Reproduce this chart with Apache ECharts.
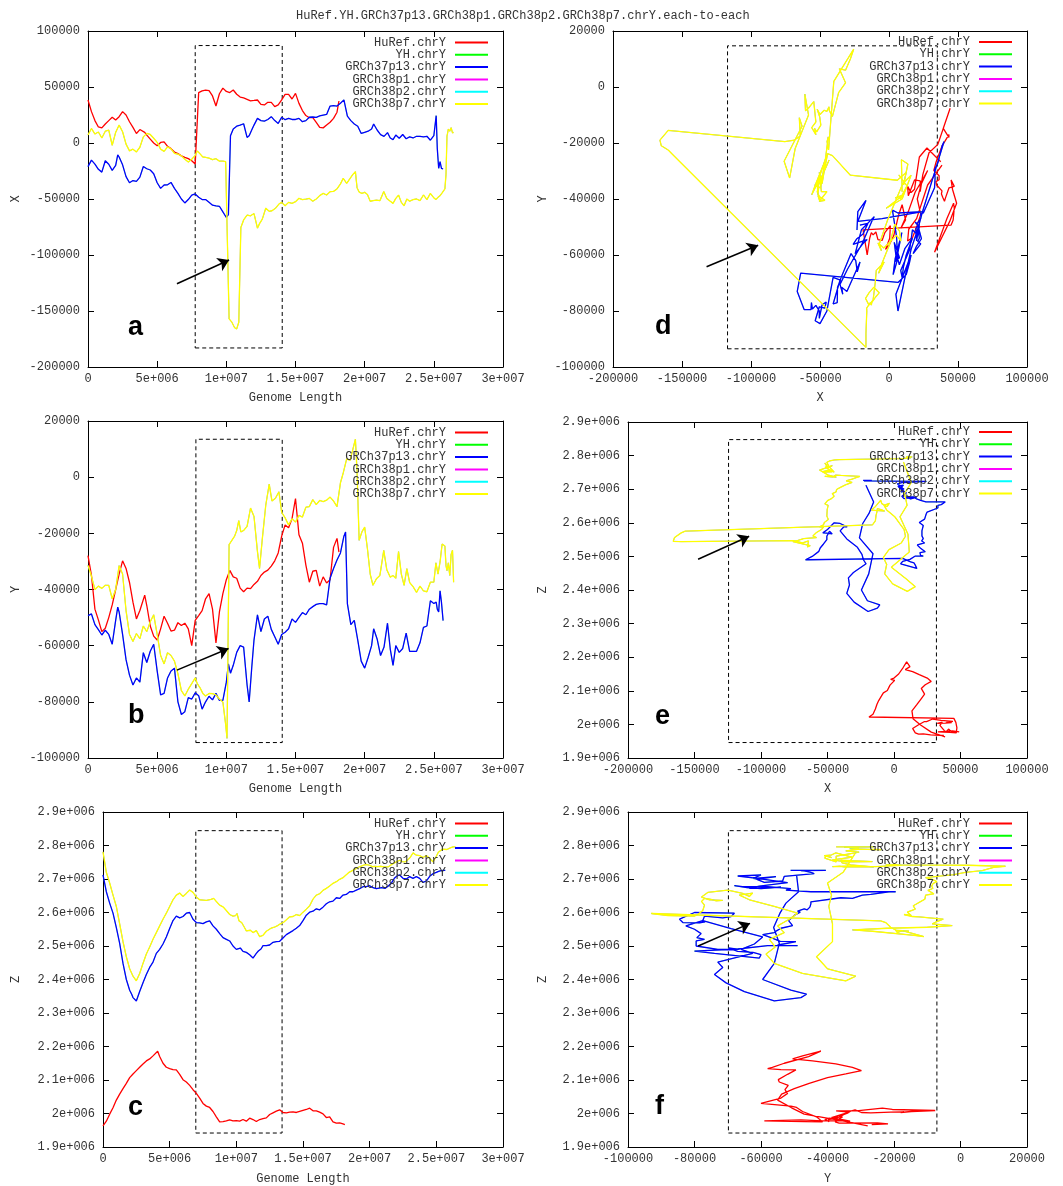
<!DOCTYPE html>
<html>
<head>
<meta charset="utf-8">
<script src="https://cdn.jsdelivr.net/npm/echarts@6/dist/echarts.min.js"></script>
<style>html,body{margin:0;padding:0;background:#fff}#chart{width:1063px;height:1186px}</style>
</head>
<body>
<div id="chart"></div>
<script>
// ---------------- DATA ----------------
const chartTitle = 'HuRef.YH.GRCh37p13.GRCh38p1.GRCh38p2.GRCh38p7.chrY.each-to-each';
const seriesNames = ['HuRef.chrY', 'YH.chrY', 'GRCh37p13.chrY', 'GRCh38p1.chrY', 'GRCh38p2.chrY', 'GRCh38p7.chrY'];
const genomeTickLabels = ['0', '5e+006', '1e+007', '1.5e+007', '2e+007', '2.5e+007', '3e+007'];
const zTickLabels = ['1.9e+006', '2e+006', '2.1e+006', '2.2e+006', '2.3e+006', '2.4e+006', '2.5e+006', '2.6e+006', '2.7e+006', '2.8e+006', '2.9e+006'];

// HuRef.chrY : genome position (Mb) and X / Y / Z coordinates
const huRefPos = [0,0.25,0.5,0.75,1,1.25,1.5,1.75,2,2.25,
  2.5,2.75,3,3.25,3.5,3.75,4.1,4.25,4.5,4.75,
  5,5.25,5.5,5.75,6,6.25,6.5,6.75,7,7.25,
  7.5,7.75,8,8.25,8.5,8.75,9,9.25,9.5,9.75,
  10,10.25,10.5,10.75,11,11.25,11.5,11.75,12,12.25,
  12.5,12.75,13,13.25,13.5,13.75,14,14.25,14.5,14.75,
  15,15.25,15.5,15.75,16,16.25,16.5,16.75,17,17.25,
  17.5,17.75,18,18.14];
const huRefX = [38400,28000,20000,14300,13500,17000,20000,23000,20500,23500,
  28000,25000,19000,14000,8500,12000,9500,7000,3500,0,
  -2500,500,1000,-3000,-5000,-8000,-9500,-11500,-12800,-14000,
  -15800,-18800,45000,46500,47300,46800,42000,33000,44000,49000,
  46000,45000,47300,43500,41000,40200,39000,37700,38000,38400,
  34500,34000,36300,36300,32500,34000,38500,43400,43400,39300,
  44300,35400,29000,24500,22600,22600,18500,14000,13500,16000,
  18500,22000,27500,37500];
const huRefY = [-27900,-35000,-47000,-50800,-55000,-53800,-50000,-45500,-40000,-34500,
  -29800,-32500,-37500,-44500,-50500,-47500,-42000,-45700,-53000,-56600,
  -58000,-54000,-49500,-52000,-54800,-54500,-51800,-52800,-52000,-54000,
  -60000,-51000,-49300,-47500,-43300,-41500,-47000,-59000,-48000,-41500,
  -36500,-33200,-35500,-36000,-39500,-40800,-39500,-39700,-38200,-37100,
  -35000,-33800,-33100,-31700,-29800,-27000,-21000,-17000,-18000,-14800,
  -7600,-20500,-23500,-31300,-37400,-33500,-33200,-38800,-35500,-37700,
  -36500,-25000,-21800,-26700];
const huRefZ = [1963000,1977000,1998000,2017000,2040000,2058000,2074000,2090000,2107000,2118000,
  2128000,2138000,2148000,2157000,2163000,2172000,2186000,2170000,2150000,2138000,
  2134000,2131000,2130000,2117000,2101000,2094000,2084000,2071000,2060000,2046000,
  2030000,2022000,2018000,2006000,1990000,1975000,1976000,1978000,1981000,1978000,
  1979000,1977000,1982000,1977000,1986000,1982000,1976000,1982000,1985000,1987000,
  1997000,2002000,2007000,2011000,2003000,2002000,2004000,2005000,2003000,2006000,
  2009000,2012000,2016000,2008000,2008000,2004000,1999000,1988000,1990000,1975000,
  1971000,1972000,1969000,1967000];

// GRCh37p13.chrY (YH.chrY coincides with it)
const grch37Pos = [0,0.25,0.5,0.75,1,1.25,1.5,1.75,2,2.15,
  2.25,2.5,2.75,3,3.25,3.5,3.75,4,4.25,4.5,
  4.75,5,5.25,5.5,5.75,6,6.25,6.5,6.75,7,
  7.25,7.5,7.75,8,8.25,8.5,8.75,9,9.25,9.5,
  9.75,10,10.15,10.3,10.5,10.75,11,11.25,11.5,11.65,
  11.85,12,12.25,12.5,12.75,13,13.25,13.5,13.75,14,
  14.25,14.5,14.75,15,15.25,15.5,15.75,16,16.25,16.5,
  16.75,17,17.25,17.5,17.75,18,18.25,18.5,18.62,18.75,
  19,19.25,19.5,19.75,20,20.25,20.5,20.65,20.9,21.15,
  21.4,21.65,21.85,22.05,22.25,22.5,22.75,23,23.25,23.5,
  23.75,24,24.25,24.5,24.75,25,25.17,25.25,25.35,25.45,
  25.55,25.67];
const grch37X = [-21100,-15300,-18800,-23500,-26000,-15800,-19000,-24500,-20000,-10700,
  -12500,-19500,-30000,-35500,-33500,-34300,-30500,-21000,-23000,-24100,
  -27500,-35500,-40500,-37500,-37300,-35200,-40500,-45000,-50000,-53500,
  -50500,-46500,-45500,-48500,-50500,-50500,-53000,-55500,-56200,-56500,
  -61500,-66500,-64000,6500,12500,15000,16000,17200,5000,6500,
  12000,16000,22000,20000,19500,21000,23500,20000,17500,23000,
  20800,22000,21000,21000,22000,19000,20000,23000,23200,22800,
  24200,24900,25500,33000,33400,33000,35500,38500,39900,24000,
  20000,17000,15000,8500,9500,10500,12500,17000,11600,7500,
  5900,9300,4500,3000,7100,4200,7600,3800,5500,4500,
  6000,6000,5500,6000,2500,6500,24400,-5000,-22600,-16700,
  -22600,-23200];
const grch37Y = [-49300,-48700,-52500,-54300,-56200,-54500,-56000,-59500,-51000,-46300,
  -48000,-56000,-65000,-70500,-74000,-71500,-73000,-62500,-66000,-62000,
  -59500,-69000,-77500,-77000,-71500,-69000,-68000,-80000,-84500,-83500,
  -78500,-79000,-76800,-77800,-82600,-80000,-78000,-79300,-77000,-79500,
  -79500,-73000,-66500,-69800,-67000,-62400,-60000,-60500,-74000,-80000,
  -67000,-58000,-49000,-55000,-50500,-49500,-54200,-56800,-59500,-56000,
  -55200,-54000,-50500,-51700,-49900,-48200,-49000,-47000,-46100,-45300,
  -45000,-45000,-45500,-36000,-32500,-29500,-27000,-21000,-19500,-45000,
  -52500,-51000,-58000,-65500,-68000,-64200,-60000,-54000,-57600,-63500,
  -60500,-52000,-61200,-67000,-60000,-62400,-61000,-55500,-62000,-62000,
  -62000,-59000,-53500,-53000,-44000,-45000,-44500,-47000,-48000,-40500,
  -44500,-51100];
const grch37Z = [2712000,2662000,2628000,2598000,2555000,2508000,2448000,2400000,2368000,2356000,
  2346000,2336000,2364000,2390000,2415000,2436000,2452000,2478000,2490000,2506000,
  2527000,2552000,2576000,2589000,2584000,2588000,2598000,2600000,2580000,2570000,
  2569000,2567000,2572000,2575000,2560000,2550000,2537000,2525000,2520000,2515000,
  2500000,2490000,2490000,2494000,2484000,2481000,2474000,2464000,2478000,2485000,
  2491000,2501000,2501000,2503000,2511000,2513000,2514000,2524000,2534000,2540000,
  2546000,2553000,2561000,2576000,2592000,2601000,2604000,2611000,2608000,2616000,
  2626000,2632000,2634000,2644000,2642000,2652000,2654000,2662000,2662000,2662000,
  2667000,2671000,2677000,2677000,2680000,2674000,2671000,2676000,2674000,2672000,
  2679000,2689000,2702000,2709000,2712000,2702000,2700000,2707000,2702000,2707000,
  2702000,2690000,2694000,2708000,2716000,2720000,2723000,2724000,2725000,2726000,
  2726000,2726000];

// GRCh38p7.chrY (GRCh38p1 / GRCh38p2 coincide with it)
const grch38Pos = [0,0.25,0.5,0.75,1,1.25,1.5,1.75,2,2.25,
  2.5,2.75,3,3.25,3.5,3.75,4,4.25,4.5,4.75,
  5,5.25,5.5,5.75,6,6.25,6.5,6.75,7,7.25,
  7.5,7.75,7.9,8.1,8.3,8.5,8.75,9,9.25,9.5,
  9.75,9.95,10.05,10.2,10.4,10.6,10.75,10.9,11.05,11.25,
  11.5,11.75,12,12.25,12.4,12.6,12.85,13.1,13.3,13.55,
  13.8,14,14.25,14.5,14.75,15,15.25,15.5,15.75,16,
  16.25,16.5,16.75,17,17.25,17.5,17.75,18,18.25,18.45,
  18.7,18.95,19.15,19.33,19.45,19.6,19.8,20,20.2,20.4,
  20.6,20.85,21.1,21.38,21.6,21.85,22.05,22.25,22.45,22.65,
  22.85,23.05,23.25,23.5,23.75,24,24.25,24.5,24.75,25,
  25.15,25.3,25.45,25.6,25.8,25.88,25.95,26.05,26.15,26.25,
  26.35,26.43];
const grch38X = [7100,13000,8000,9800,4500,10500,11500,-2000,9500,16000,
  10000,-1000,-7000,-5500,-8000,-3800,5500,8600,7600,4200,
  600,-5500,-7500,-3500,-5300,-9200,-10000,-11500,-14500,-17000,
  -14500,-11000,-7100,-9700,-12500,-12800,-13500,-14900,-14000,-16200,
  -16100,-16700,-16700,-157000,-160000,-165000,-166000,-160000,-75500,-68700,
  -64300,-65000,-63000,-76000,-72000,-68000,-58300,-61000,-60500,-58300,
  -54500,-53000,-56000,-53000,-53900,-52400,-49400,-50500,-50200,-49500,
  -52000,-50000,-47000,-45000,-46400,-43500,-43200,-41000,-36500,-31500,
  -36000,-31500,-28000,-25600,-40000,-43800,-44900,-44000,-46000,-52000,
  -51500,-51000,-51500,-43400,-49500,-52000,-53900,-49500,-46500,-53000,
  -56000,-50000,-52000,-50500,-50000,-51500,-46400,-50500,-45000,-49000,
  -50500,-48500,-47000,-44500,-41000,-28000,6000,12500,10500,13700,
  9000,9500];
const grch38Y = [-31400,-35300,-40000,-38800,-39600,-38500,-38500,-43300,-40000,-31500,
  -34500,-47500,-56000,-58500,-55700,-57500,-53000,-55000,-51500,-49000,
  -56000,-63500,-66500,-62500,-63500,-65500,-70000,-76000,-77900,-75500,
  -73500,-71500,-73500,-75000,-77000,-77900,-77000,-77100,-77500,-79000,
  -80100,-88000,-93000,-24000,-22500,-21000,-19000,-15500,-19500,-19000,
  -17500,-11000,-14000,-26500,-32500,-22000,-10000,-2500,-8500,-7500,
  -5200,-12500,-14500,-17000,-14800,-16000,-13600,-14200,-10700,-10500,
  -8000,-9800,-8300,-8700,-8200,-7100,-8500,-10500,-2000,1500,
  6500,6000,10000,13500,2000,-22500,-19500,-17800,-25500,-34500,
  -38500,-36200,-35000,-26100,-33000,-35600,-35000,-36000,-26500,-34500,
  -38500,-32600,-37500,-39000,-41000,-38800,-40500,-40800,-37400,-37400,
  -30500,-34500,-30200,-23800,-24500,-31500,-33300,-30500,-35000,-27500,
  -26000,-37400];
const grch38Z = [2781000,2720000,2688000,2652000,2618000,2566000,2513000,2468000,2432000,2410000,
  2396000,2418000,2448000,2476000,2497000,2520000,2540000,2560000,2580000,2598000,
  2618000,2638000,2652000,2658000,2648000,2657000,2667000,2660000,2646000,2638000,
  2637000,2636000,2635000,2639000,2642000,2633000,2622000,2617000,2606000,2594000,
  2589000,2591000,2597000,2575000,2570000,2556000,2545000,2544000,2547000,2540000,
  2546000,2528000,2532000,2544000,2548000,2553000,2556000,2561000,2566000,2571000,
  2580000,2587000,2588000,2594000,2591000,2601000,2610000,2620000,2640000,2652000,
  2656000,2666000,2672000,2679000,2687000,2692000,2699000,2704000,2713000,2720000,
  2725000,2730000,2735000,2738000,2741000,2742000,2743000,2741000,2737000,2738000,
  2737000,2738000,2736000,2736000,2742000,2748000,2752000,2756000,2752000,2751000,
  2757000,2765000,2778000,2771000,2770000,2764000,2770000,2762000,2751000,2768000,
  2780000,2784000,2789000,2787000,2788000,2789000,2791000,2793000,2795000,2796000,
  2796000,2796000];

// ---------------- STYLE / LAYOUT ----------------
const MB = 1e6;
const seriesColors = ['#ff0000', '#00ff00', '#0000ff', '#ff00ff', '#00ffff', '#ffff00'];
// line widths: the coincident series drawn underneath are thinner so the top line covers them
const seriesWidths = [1.3, 0.5, 1.3, 0.5, 0.5, 1.3];
const tracks = [
  {pos: huRefPos, X: huRefX, Y: huRefY, Z: huRefZ},
  {pos: grch37Pos, X: grch37X, Y: grch37Y, Z: grch37Z},
  {pos: grch37Pos, X: grch37X, Y: grch37Y, Z: grch37Z},
  {pos: grch38Pos, X: grch38X, Y: grch38Y, Z: grch38Z},
  {pos: grch38Pos, X: grch38X, Y: grch38Y, Z: grch38Z},
  {pos: grch38Pos, X: grch38X, Y: grch38Y, Z: grch38Z}
];
const ranges = {
  pos: {min: 0, max: 30000000, interval: 5000000},
  X: {min: -200000, max: 100000, interval: 50000},
  Y: {min: -100000, max: 20000, interval: 20000},
  Z: {min: 1900000, max: 2900000, interval: 100000}
};
const axisNames = {pos: 'Genome Length', X: 'X', Y: 'Y', Z: 'Z'};

const panels = [
  {letter: 'a', grid: {left: 88, top: 31, width: 415, height: 336}, xf: 'pos', yf: 'X', xGap: 25, yGap: 66,
   legend: {right: 575, top: 36.5}, letterPos: [128, 314],
   box: [[7750000, -183000], [14040000, 87000]], arrow: [[6430000, -125700], [10200000, -104500]]},
  {letter: 'd', grid: {left: 613, top: 31, width: 414, height: 336}, xf: 'X', yf: 'Y', xGap: 25, yGap: 64,
   legend: {right: 51, top: 36}, letterPos: [655, 313],
   box: [[-117000, -93500], [35000, 14700]], arrow: [[-132200, -64200], [-94800, -56500]]},
  {letter: 'b', grid: {left: 88, top: 421, width: 415, height: 337}, xf: 'pos', yf: 'Y', xGap: 25, yGap: 66,
   legend: {right: 575, top: 426.5}, letterPos: [128, 702],
   box: [[7800000, -94500], [14040000, 13500]], arrow: [[6430000, -68700], [10160000, -61000]]},
  {letter: 'e', grid: {left: 628, top: 422, width: 399, height: 336}, xf: 'X', yf: 'Z', xGap: 25, yGap: 79,
   legend: {right: 51, top: 426}, letterPos: [655, 703],
   box: [[-124400, 1946000], [31900, 2847600]], arrow: [[-147300, 2491400], [-108900, 2559800]]},
  {letter: 'c', grid: {left: 103, top: 812, width: 400, height: 336}, xf: 'pos', yf: 'Z', xGap: 26, yGap: 81,
   legend: {right: 575, top: 817.5}, letterPos: [128, 1094],
   box: [[6960000, 1941700], [13430000, 2844300]], arrow: null},
  {letter: 'f', grid: {left: 628, top: 812, width: 399, height: 336}, xf: 'Y', yf: 'Z', xGap: 26, yGap: 79,
   legend: {right: 51, top: 817.5}, letterPos: [655, 1093],
   box: [[-69800, 1941700], [-7100, 2844300]], arrow: [[-78900, 2500000], [-63300, 2567600]]}
];

const FONT = '"Liberation Mono", "DejaVu Sans Mono", monospace';
const TXT = '#333';

function fieldValues(t, f) { return f === 'pos' ? t.pos.map(v => v * MB) : t[f]; }
function pairs(t, fx, fy) {
  const xs = fieldValues(t, fx), ys = fieldValues(t, fy);
  return xs.map((v, i) => [v, ys[i]]);
}
function formatter(f) {
  if (f === 'pos') return v => genomeTickLabels[Math.round(v / 5000000)];
  if (f === 'Z') return v => zTickLabels[Math.round((v - 1900000) / 100000)];
  return v => String(Math.round(v));
}
function axis(f, gridIndex, position, main, isY, gap) {
  const r = ranges[f];
  const a = {
    type: 'value', gridIndex, position, min: r.min, max: r.max, interval: r.interval,
    axisLine: {show: true, onZero: false, lineStyle: {color: '#000', width: 1}},
    axisTick: {show: true, inside: true, length: 6, lineStyle: {color: '#000', width: 1}},
    splitLine: {show: false},
    axisLabel: main ? {show: true, formatter: formatter(f), fontFamily: FONT, fontSize: 12, color: TXT, margin: isY ? 8 : 6, showMinLabel: true, showMaxLabel: true, hideOverlap: false}
                    : {show: false},
    silent: true
  };
  if (main) {
    a.name = axisNames[f];
    a.nameLocation = 'middle';
    a.nameGap = gap;
    a.nameTextStyle = {fontFamily: FONT, fontSize: 12, color: TXT};
  }
  return a;
}

const grids = [], xAxes = [], yAxes = [], series = [], legends = [], graphics = [];
panels.forEach((p, i) => {
  grids.push(Object.assign({show: false}, p.grid));
  xAxes.push(axis(p.xf, i, 'bottom', true, false, p.xGap));
  xAxes.push(axis(p.xf, i, 'top', false, false, 0));
  yAxes.push(axis(p.yf, i, 'left', true, true, p.yGap));
  yAxes.push(axis(p.yf, i, 'right', false, true, 0));
  tracks.forEach((t, k) => {
    const s = {
      type: 'line', name: seriesNames[k], xAxisIndex: 2 * i, yAxisIndex: 2 * i,
      data: pairs(t, p.xf, p.yf), showSymbol: false, symbol: 'none',
      lineStyle: {color: seriesColors[k], width: seriesWidths[k]}, itemStyle: {color: seriesColors[k]},
      animation: false, silent: true
    };
    if (k === tracks.length - 1) {
      s.markArea = {
        silent: true, label: {show: false},
        itemStyle: {color: 'rgba(0,0,0,0)', borderColor: '#000', borderWidth: 1, borderType: [4, 3]},
        data: [[{coord: p.box[0]}, {coord: p.box[1]}]]
      };
      if (p.arrow) {
        s.markLine = {
          silent: true, symbol: ['none', 'arrow'], symbolSize: 11, label: {show: false},
          lineStyle: {color: '#000', width: 1.5, type: 'solid'},
          data: [[{coord: p.arrow[0]}, {coord: p.arrow[1]}]]
        };
      }
    }
    series.push(s);
  });
  legends.push({
    data: seriesNames.slice(), orient: 'vertical', align: 'right', right: p.legend.right, top: p.legend.top,
    padding: 0, itemGap: 0.3, itemWidth: 33, itemHeight: 2, icon: 'rect', selectedMode: false,
    textStyle: {fontFamily: FONT, fontSize: 12, color: TXT, lineHeight: 12, padding: [0, 4, 0, 0]}
  });
  graphics.push({
    type: 'text', left: p.letterPos[0], top: p.letterPos[1], silent: true,
    style: {text: p.letter, font: 'bold 27px "Liberation Sans", Arial, sans-serif', fill: '#000'}
  });
});

const chart = echarts.init(document.getElementById('chart'), null, {renderer: 'canvas'});
chart.setOption({
  animation: false,
  backgroundColor: '#fff',
  title: {text: chartTitle, left: 296, top: 10, padding: 0,
          textStyle: {fontFamily: FONT, fontSize: 12, fontWeight: 'normal', color: TXT}},
  grid: grids,
  xAxis: xAxes,
  yAxis: yAxes,
  legend: legends,
  graphic: graphics,
  series: series
});
</script>
</body>
</html>
